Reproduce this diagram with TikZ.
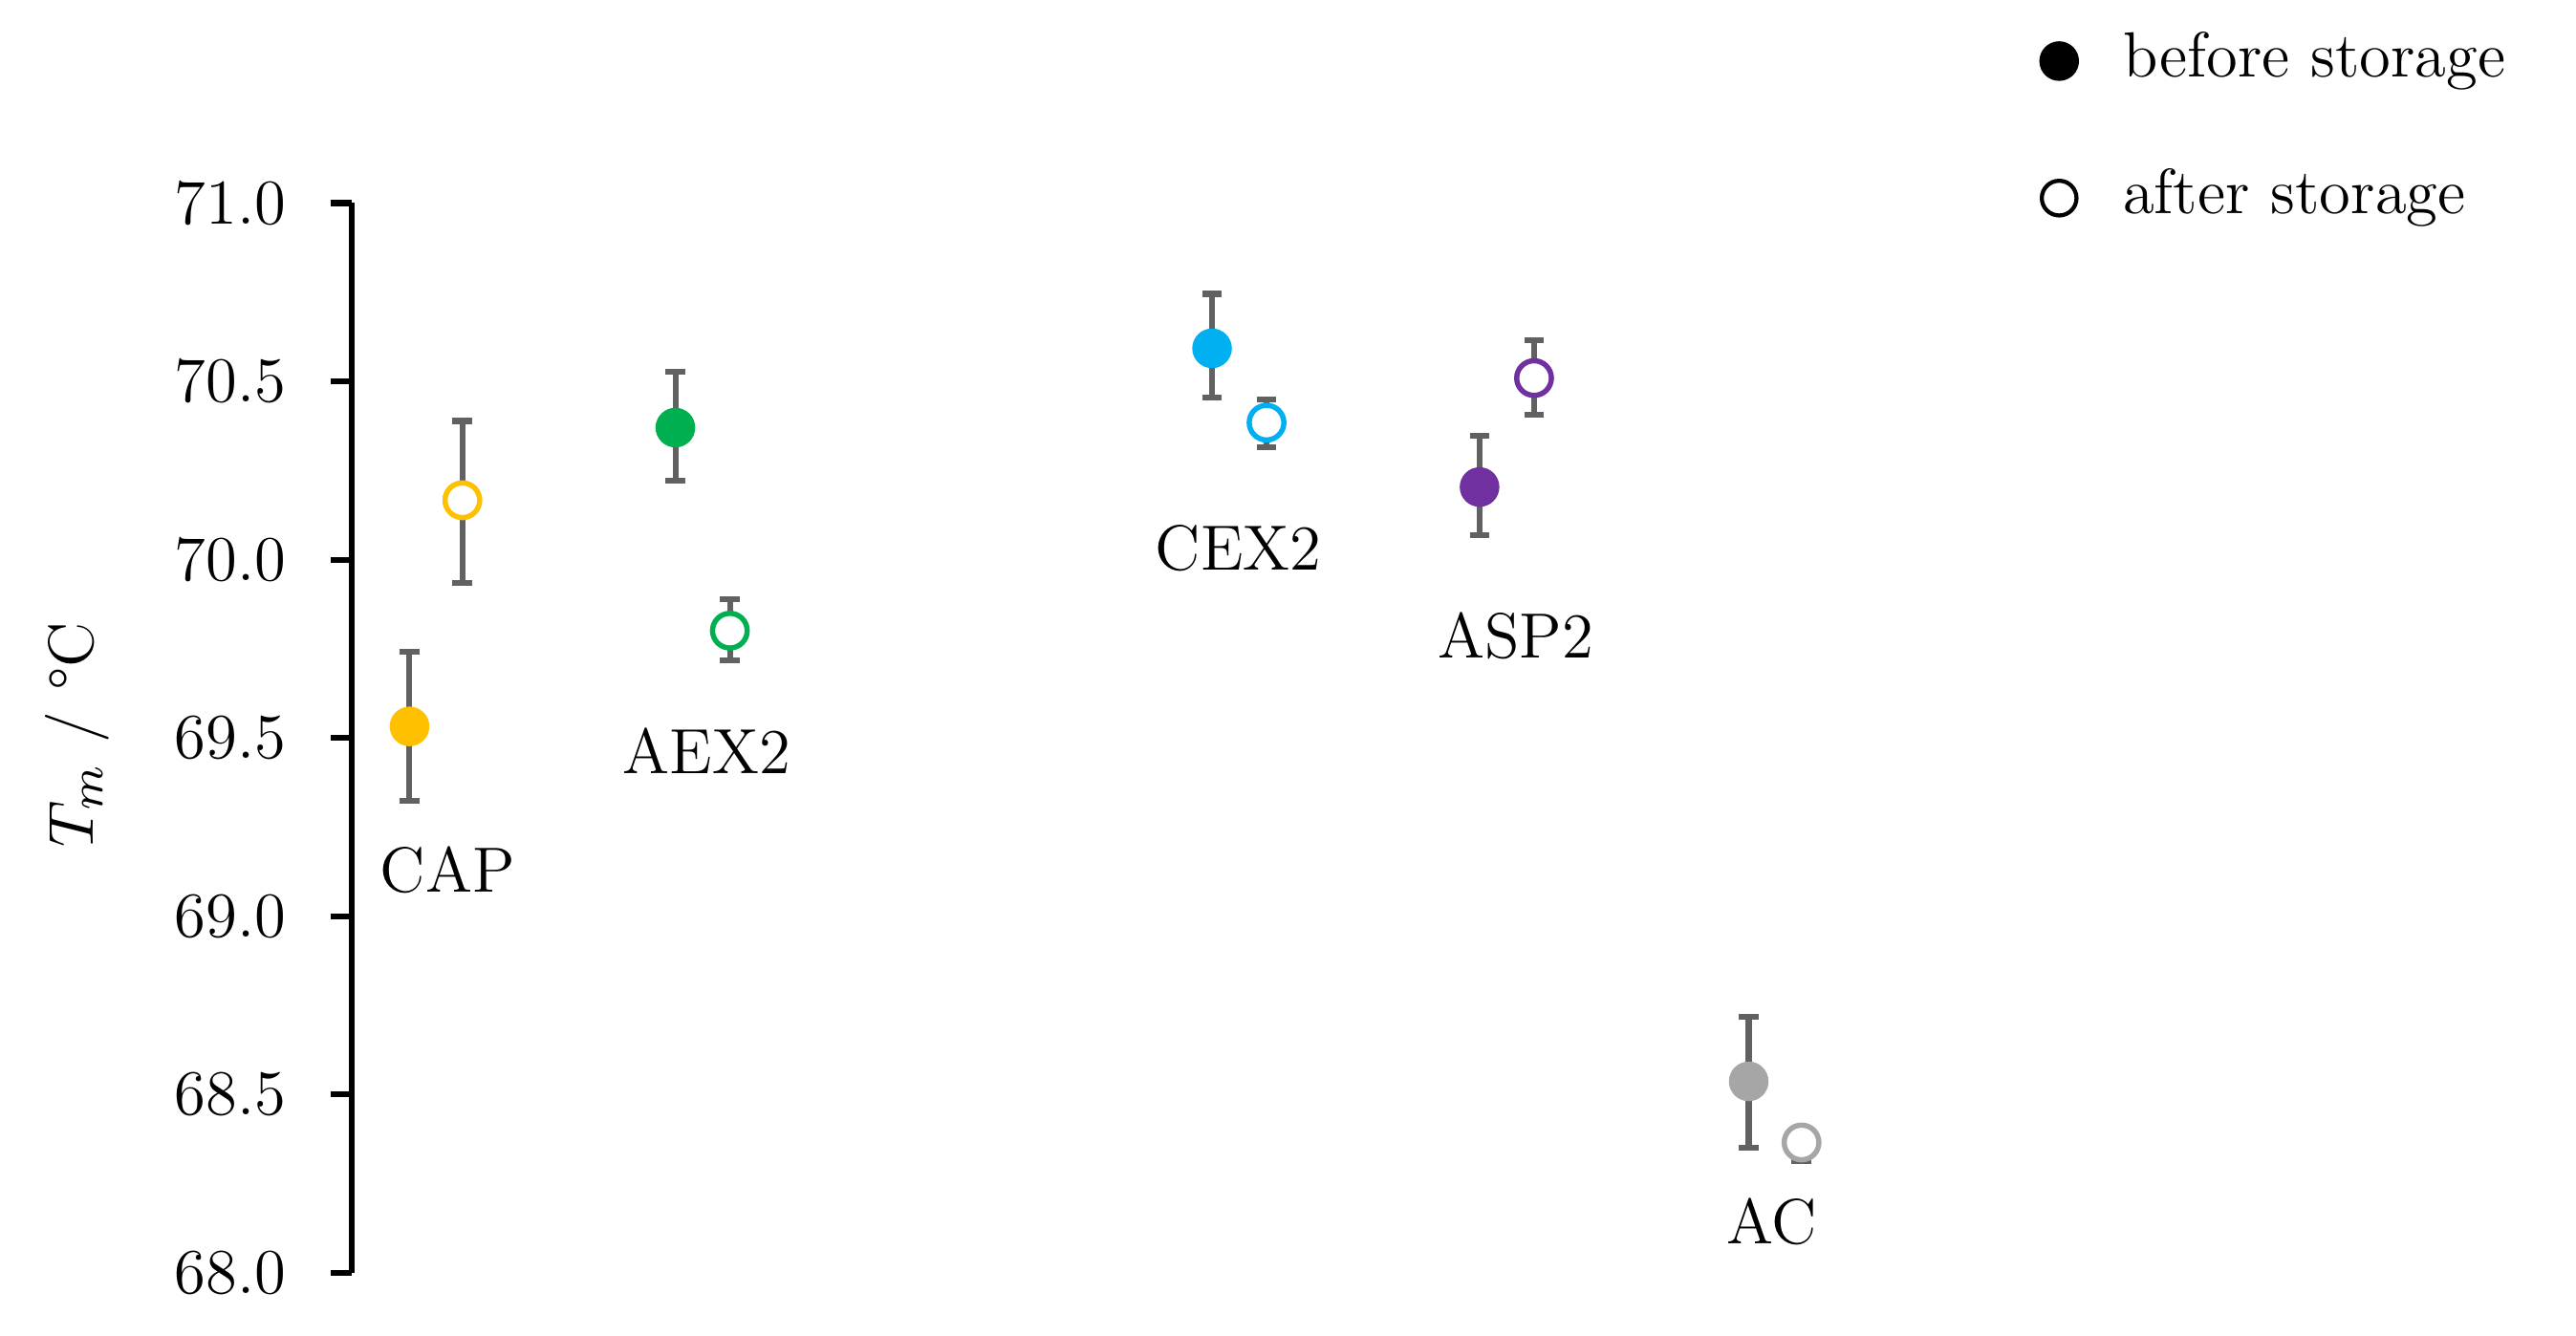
\documentclass[tikz,border=0pt]{standalone}
\begin{document}
\begin{tikzpicture}[x=0.01cm,y=-0.01cm,
  txt/.style={font=\fontsize{11}{13}\selectfont,inner sep=0pt},
  filled/.style={circle,minimum size=0.24cm,inner sep=0pt,fill=#1},
  hollow/.style={circle,minimum size=0.21cm,inner sep=0pt,draw=#1,line width=0.9pt,fill=white},
  err/.style={draw=black!62,line width=1pt},
  axis/.style={draw=black,line width=1pt}]
\useasboundingbox (0,0) rectangle (1560,809);
\definecolor{cy}{HTML}{FFC000}\definecolor{cg}{HTML}{00B050}
\definecolor{cb}{HTML}{00B0F0}\definecolor{cp}{HTML}{7030A0}
\definecolor{ca}{HTML}{A6A6A6}
% axis
\coordinate (top) at (213,123); \coordinate (bot) at (213,771);
\draw[axis] (top) -- (bot);
\foreach \v [count=\i from 0] in {71.0,70.5,70.0,69.5,69.0,68.5,68.0}{
  \draw[axis] (200,123+108*\i) -- (213,123+108*\i);
  \node[txt,anchor=east] (t\i) at (174,123+108*\i) {\v};
}
\node[txt,rotate=90] (ylab) at (47,445) {$T_m$ / °C};
% error bars and markers
\foreach \n/\x/\y/\a/\b/\c/\k in {
  a/248/440/395/485/cy/filled, b/280/303/255/353/cy/hollow,
  c/409/259/225/291/cg/filled, d/442/382/363/400/cg/hollow,
  e/734/211/178/241/cb/filled, f/767/256/242/271/cb/hollow,
  g/896/295/264/324/cp/filled, h/929/229/206/251/cp/hollow,
  i/1059/655/616/695/ca/filled, j/1091/692/684/703/ca/hollow}{
  \coordinate (\n t) at (\x,\a); \coordinate (\n b) at (\x,\b);
  \draw[err] (\n t) -- (\n b);
  \draw[err] ([xshift=-0.06cm]\n t) -- ([xshift=0.06cm]\n t);
  \draw[err] ([xshift=-0.06cm]\n b) -- ([xshift=0.06cm]\n b);
  \node[\k=\c] (\n) at (\x,\y) {};
}
\node[txt] (l1) at (271,527) {CAP};
\node[txt] (l2) at (428,455) {AEX2};
\node[txt] (l3) at (750,332) {CEX2};
\node[txt] (l4) at (918,385) {ASP2};
\node[txt] (l5) at (1073,740) {AC};
% legend
\node[filled=black] (lg1) at (1247,37) {};
\node[txt,anchor=west] (lt1) at (1285,37) {before storage};
\node[hollow=black,line width=0.7pt] (lg2) at (1247,120) {};
\node[txt,anchor=west] (lt2) at (1285,120) {after storage};
\end{tikzpicture}
\end{document}
